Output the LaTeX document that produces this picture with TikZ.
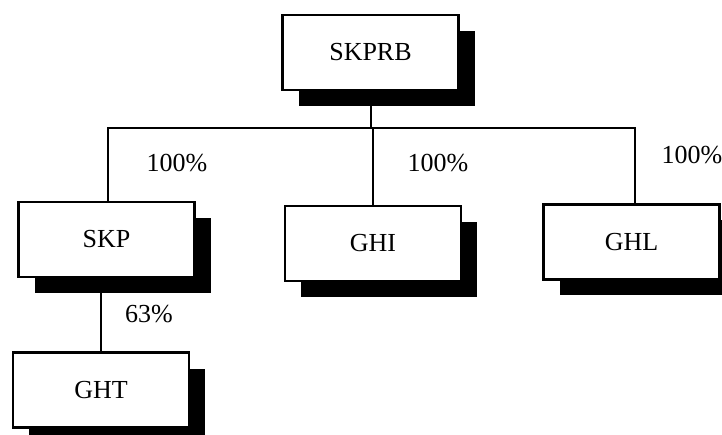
\documentclass[tikz,border=0pt]{standalone}
\usepackage{fontspec}
\setmainfont{Liberation Serif}
\usetikzlibrary{shadows}
\begin{document}
\begin{tikzpicture}[x=1pt,y=-1pt,
  entity/.style={draw=black, fill=white, line width=2.2pt, rectangle,
    inner sep=0pt, minimum width=176pt, minimum height=75pt,
    font=\fontsize{26}{30}\selectfont,
    general shadow={fill=black, shadow xshift=16pt, shadow yshift=-16pt}},
  share/.style={font=\fontsize{26}{30}\selectfont, inner sep=0pt},
  link/.style={line width=2pt}]
\useasboundingbox (0,0) rectangle (722,435);
\node[entity] (skprb) at (370.5,52.5) {SKPRB};
\node[entity] (skp) at (106.5,239.5) {SKP};
\node[entity] (ghi) at (373,243.5) {GHI};
\node[entity] (ghl) at (631.5,242) {GHL};
\node[entity] (ght) at (101,390) {GHT};
\coordinate (bl) at (108,128);
\coordinate (br) at (635,128);
\draw[link] (skp.north -| bl) -- (bl) -- (br) -- (ghl.north -| br);
\draw[link] (skprb.south) -- (skprb.south |- bl);
\draw[link] (ghi.north) -- (ghi.north |- bl);
\draw[link] (skp.south -| ght.north) -- (ght.north);
\node[share] (p1) at (177,163) {100\%};
\node[share] (p2) at (438,163) {100\%};
\node[share] (p3) at (692,155) {100\%};
\node[share] (p4) at (149,314) {63\%};
\end{tikzpicture}
\end{document}
